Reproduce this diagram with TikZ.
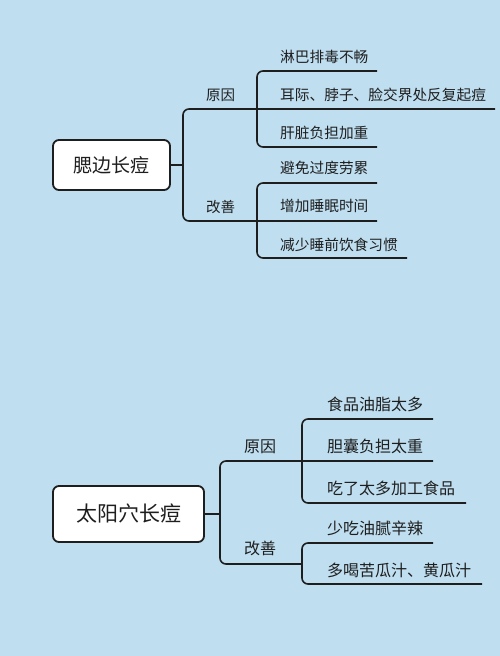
\documentclass[tikz,border=0pt]{standalone}
\usepackage{fontspec}
\setmainfont{Noto Sans CJK SC}
\definecolor{bgblue}{RGB}{191,222,240}
\definecolor{ink}{RGB}{30,30,30}

\begin{document}
\begin{tikzpicture}[x=1pt,y=-1pt]
        \tikzset{rootbox/.style = {draw=ink,line width=1.8pt,rounded corners=6pt,fill=white,inner sep=0pt,text=ink}}
        \tikzset{branchtext/.style = {text=ink,inner sep=0pt}}
        \tikzset{leaf/.style = {anchor=west,text=ink,inner sep=0pt}}
        \tikzset{link/.style = {draw=ink,line width=1.6pt,rounded corners=6pt}}
        \fill[bgblue] (0,0) rectangle (500,656);

        % upper map
        \node[rootbox,minimum width=117pt,minimum height=50pt,font=\fontsize{19}{21}\selectfont] (top) at (111.5,165) {腮边长痘};
        \coordinate (tj) at (183,165);
        \coordinate (ts1) at (257,109);
        \coordinate (ts2) at (257,221);
        \node[branchtext,font=\fontsize{14.5}{16}\selectfont] (tcause) at (220.5,95) {原因};
        \node[branchtext,font=\fontsize{14.5}{16}\selectfont] (tcare) at (220.5,207) {改善};
        \begin{scope}[font=\fontsize{14.7}{16}\selectfont]
        \node[leaf] (ta) at (280,57) {淋巴排毒不畅};
        \node[leaf] (tb) at (280,95) {耳际、脖子、脸交界处反复起痘};
        \node[leaf] (tc) at (280,133) {肝脏负担加重};
        \node[leaf] (td) at (280,168) {避免过度劳累};
        \node[leaf] (te) at (280,206) {增加睡眠时间};
        \node[leaf] (tf) at (280,245) {减少睡前饮食习惯};
        \end{scope}
        \coordinate (tae) at (377,71);
        \coordinate (tbe) at (495,109);
        \coordinate (tce) at (377,147);
        \coordinate (tde) at (377,183);
        \coordinate (tee) at (377,221);
        \coordinate (tfe) at (407,258);

        \draw[link] (top.east) -- (tj);
        \draw[link] (tj) |- (tbe);
        \draw[link] (tj) |- (tee);
        \draw[link] (ts1) |- (tae);
        \draw[link] (ts1) |- (tce);
        \draw[link] (ts2) |- (tde);
        \draw[link] (ts2) |- (tfe);

        % lower map
        \node[rootbox,minimum width=151pt,minimum height=56pt,font=\fontsize{21}{24}\selectfont] (bot) at (128.5,514) {太阳穴长痘};
        \coordinate (bj) at (220,514);
        \coordinate (bs1) at (302,461);
        \coordinate (bs2) at (302,564);
        \node[branchtext,font=\fontsize{16}{18}\selectfont] (bcause) at (260,447) {原因};
        \node[branchtext,font=\fontsize{16}{18}\selectfont] (bcare) at (260,548) {改善};
        \begin{scope}[font=\fontsize{16}{18}\selectfont]
        \node[leaf] (ba) at (327,404) {食品油脂太多};
        \node[leaf] (bb) at (327,446) {胆囊负担太重};
        \node[leaf] (bc) at (327,488) {吃了太多加工食品};
        \node[leaf] (bd) at (327,528) {少吃油腻辛辣};
        \node[leaf] (be) at (327,570) {多喝苦瓜汁、黄瓜汁};
        \end{scope}
        \coordinate (bae) at (433,419);
        \coordinate (bbe) at (433,461);
        \coordinate (bce) at (466,503);
        \coordinate (bde) at (433,543);
        \coordinate (bee) at (482,584);

        \draw[link] (bot.east) -- (bj);
        \draw[link] (bj) |- (bbe);
        \draw[link] (bj) |- (bs2);
        \draw[link] (bs1) |- (bae);
        \draw[link] (bs1) |- (bce);
        \draw[link] (bs2) |- (bde);
        \draw[link] (bs2) |- (bee);
    \end{tikzpicture}
\end{document}
